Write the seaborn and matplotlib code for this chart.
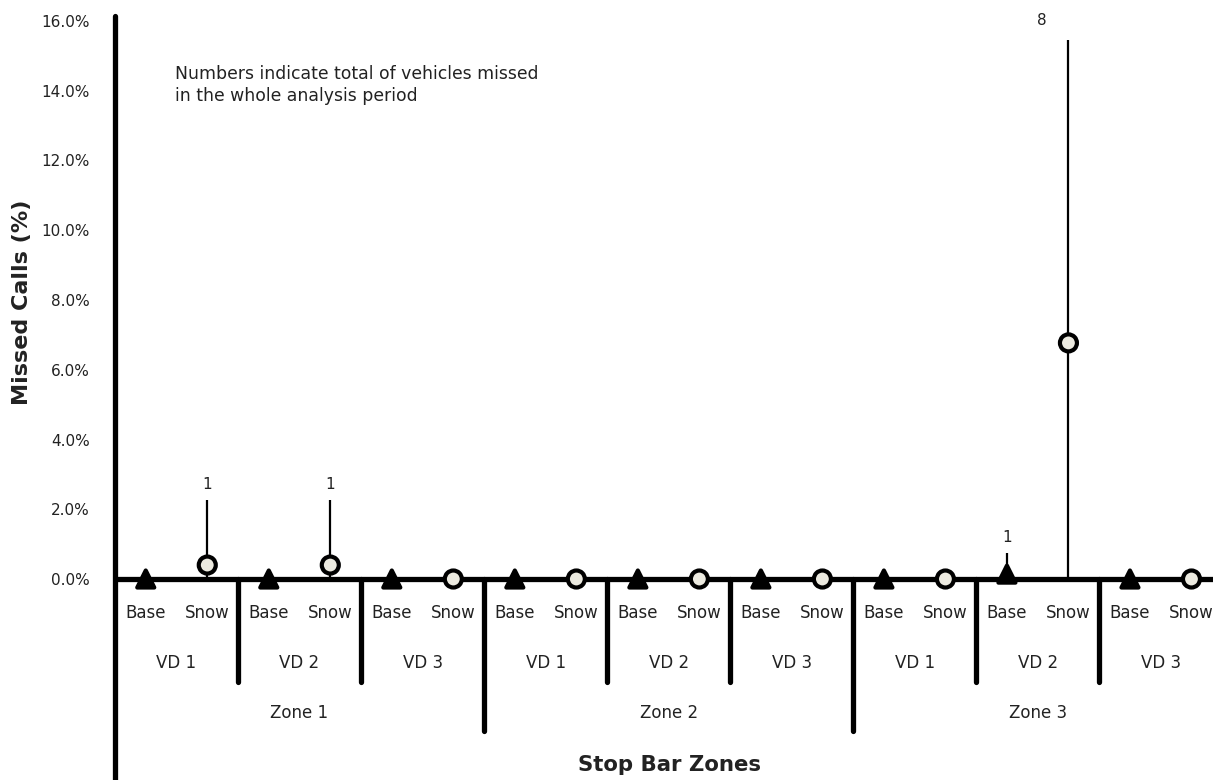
import pandas as pd
import numpy as np
import matplotlib.pyplot as plt
import seaborn as sns

# chart values
zones = ["Zone 1", "Zone 2", "Zone 3"]
detectors = ["VD 1", "VD 2", "VD 3"]
conditions = ["Base", "Snow"]

# missed calls (%) in order zone -> detector -> condition
missed_pct = [0.0, 0.40, 0.0, 0.40, 0.0, 0.0,
              0.0, 0.0, 0.0, 0.0, 0.0, 0.0,
              0.0, 0.0, 0.14, 6.77, 0.0, 0.0]
# upper end of the error bar (%), None where no bar
upper_pct = [None, 2.27, None, 2.27, None, None,
             None, None, None, None, None, None,
             None, None, 0.75, 15.45, None, None]
# total of vehicles missed in the whole analysis period
vehicles_missed = [None, 1, None, 1, None, None,
                   None, None, None, None, None, None,
                   None, None, 1, 8, None, None]

rows = []
for z in zones:
    for d in detectors:
        for c in conditions:
            rows.append((z, d, c))
df = pd.DataFrame(rows, columns=["Zone", "Detector", "Condition"])
df["Missed"] = missed_pct
df["Upper"] = upper_pct
df["Vehicles"] = vehicles_missed
df["pos"] = np.arange(len(df))

sns.set_theme(style="white")
plt.rcParams['font.family'] = ['DejaVu Sans']
text_col = "#222222"

fig = plt.figure(figsize=(12.13, 7.8), dpi=100)
ax = fig.add_axes([115 / 1213, 0, 1098 / 1213, 764 / 780])

# error bars (drawn first, markers sit on top)
bars = df.dropna(subset=["Upper"])
ax.vlines(bars["pos"], 0, bars["Upper"], color="black", linewidth=1.6, zorder=2)

# baseline axis
ax.axhline(0, color="black", linewidth=3.8, zorder=3)

sns.scatterplot(data=df, x="pos", y="Missed", hue="Condition", style="Condition",
                markers={"Base": "^", "Snow": "o"},
                palette={"Base": "black", "Snow": "#ECEAE0"},
                s=150, edgecolor="black", linewidth=3, legend=False,
                zorder=5, ax=ax)

# labels with vehicle counts
offsets = {8: (-19, 8.5)}
for _, r in df.dropna(subset=["Vehicles"]).iterrows():
    v = int(r["Vehicles"])
    dx, dy = offsets.get(v, (0, 6))
    ax.annotate(f"{v}", (r["pos"], r["Upper"]), xytext=(dx, dy),
                textcoords="offset points", ha="center", va="bottom",
                fontsize=11, color=text_col)

n = len(df)
ax.set_xlim(-0.5, 17.35)
ax.set_ylim(-5.763, 16.143)

# group separators
for b in range(2, n, 2):
    low = -4.36 if b % 6 == 0 else -2.95
    ax.plot([b - 0.5, b - 0.5], [0, low], color="black", linewidth=3.8,
            solid_capstyle="round", zorder=3)

# hierarchical category labels
for _, r in df.iterrows():
    ax.text(r["pos"], -0.975, r["Condition"], ha="center", va="center",
            fontsize=12, color=text_col)
for i in range(0, n, 2):
    ax.text(i + 0.5, -2.41, df.loc[i, "Detector"], ha="center", va="center",
            fontsize=12, color=text_col)
for i in range(0, n, 6):
    ax.text(i + 2.5, -3.84, df.loc[i, "Zone"], ha="center", va="center",
            fontsize=12, color=text_col)

ax.text(0.48, 14.17, "Numbers indicate total of vehicles missed\nin the whole analysis period",
        ha="left", va="center", fontsize=12.4, color=text_col, linespacing=1.3)

# y axis
ax.set_yticks(np.arange(0, 17, 2))
ax.yaxis.set_major_formatter(plt.FuncFormatter(lambda v, _: f"{v:.1f}%"))
ax.tick_params(axis="y", length=0, pad=18, labelsize=11, labelcolor=text_col)
ax.set_xticks([])
ax.set_xlabel("")
ax.set_ylabel("Missed Calls (%)", fontsize=16, fontweight="bold", color=text_col)
ax.yaxis.set_label_coords(-0.076, 0.625)

for side in ["top", "right", "bottom"]:
    ax.spines[side].set_visible(False)
ax.spines["left"].set_linewidth(3.8)
ax.spines["left"].set_color("black")
ax.spines["left"].set_capstyle("round")

fig.text(670 / 1213, 15 / 780, "Stop Bar Zones", ha="center", va="center",
         fontsize=15.3, fontweight="bold", color=text_col)

fig.savefig("out.png", dpi=100)
